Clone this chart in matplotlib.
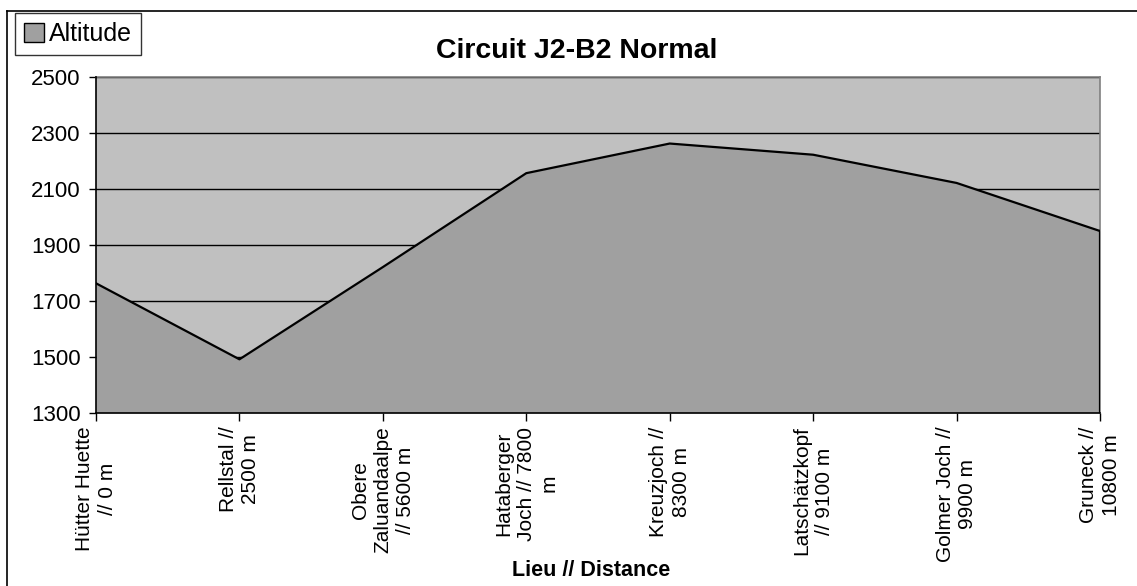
import matplotlib
matplotlib.use("Agg")
import matplotlib.pyplot as plt
from matplotlib.patches import Patch
from matplotlib.lines import Line2D

plt.rcParams["font.family"] = ["Liberation Sans", "DejaVu Sans"]

# données
lieux = [
    "Hütter Huette\n// 0 m",
    "Rellstal //\n2500 m",
    "Obere\nZaluandaalpe\n// 5600 m",
    "Hataberger\nJoch // 7800\nm",
    "Kreuzjoch //\n8300 m",
    "Latschätzkopf\n// 9100 m",
    "Golmer Joch //\n9900 m",
    "Gruneck //\n10800 m",
]
altitude = [1763, 1491, 1821, 2157, 2263, 2223, 2122, 1950]
y_ticks = [1300, 1500, 1700, 1900, 2100, 2300, 2500]

W, H = 1137, 586
fig = plt.figure(figsize=(W / 100, H / 100), dpi=100)
ax = fig.add_axes([96 / W, 1 - 412.7 / H, (1100 - 96) / W, (412.7 - 77.3) / H])

x = list(range(len(lieux)))
ax.set_facecolor("#c0c0c0")
ax.fill_between(x, y_ticks[0], altitude, color="#a0a0a0", zorder=2, linewidth=0)
ax.plot(x, altitude, color="black", lw=1.6, zorder=3)
ax.plot([x[-1], x[-1]], [y_ticks[0], altitude[-1]], color="black", lw=1.6, zorder=3)

ax.set_xlim(0, len(lieux) - 1)
ax.set_ylim(y_ticks[0], y_ticks[-1])
ax.set_yticks(y_ticks)
ax.set_yticklabels([str(v) for v in y_ticks], fontsize=16)
ax.set_xticks(x)
ax.set_xticklabels(lieux, rotation=90, fontsize=15, ha="center", va="top",
                   multialignment="center", linespacing=1.25)
ax.grid(axis="y", color="black", lw=1, zorder=1)
ax.set_axisbelow(True)

for s in ["top", "right"]:
    ax.spines[s].set_color("#808080")
    ax.spines[s].set_linewidth(1.2)
for s in ["left", "bottom"]:
    ax.spines[s].set_color("black")
    ax.spines[s].set_linewidth(1.2)
    ax.spines[s].set_zorder(4)
ax.tick_params(axis="x", length=6, width=1, pad=4)
ax.tick_params(axis="y", length=5, width=1, pad=6)

fig.text(577 / W, 1 - 51 / H, "Circuit J2-B2 Normal", ha="center", va="center",
         fontsize=20.5, fontweight="bold")
fig.text(591 / W, 1 - 570 / H, "Lieu // Distance", ha="center", va="center",
         fontsize=15.5, fontweight="bold")

# cadre extérieur du graphique
fig.add_artist(Line2D([7 / W, 7 / W], [0, 1 - 11 / H], color="black", lw=1.2,
                      transform=fig.transFigure))
fig.add_artist(Line2D([7 / W, 1], [1 - 11 / H, 1 - 11 / H], color="black", lw=1.2,
                      transform=fig.transFigure))

leg = fig.legend(handles=[Patch(facecolor="#a0a0a0", edgecolor="black", lw=1)],
                 labels=["Altitude"], loc="upper left",
                 bbox_to_anchor=(15 / W, 1 - 13 / H), fontsize=18,
                 frameon=True, fancybox=False, edgecolor="black",
                 handlelength=0.8, handleheight=0.8, handletextpad=0.2,
                 borderpad=0.35, borderaxespad=0)
leg.get_frame().set_linewidth(1)

fig.savefig("out.png", dpi=100)
